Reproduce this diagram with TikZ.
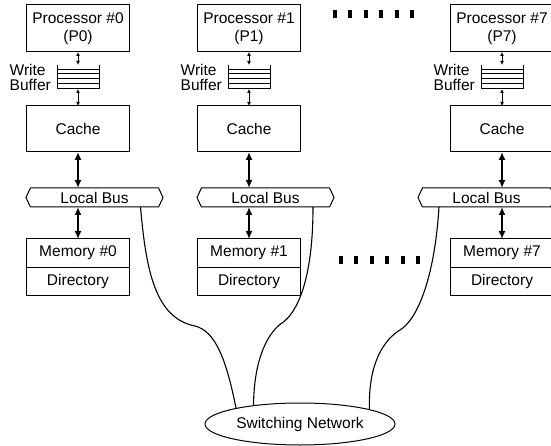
\documentclass[tikz,border=0pt]{standalone}
\usepackage{fontspec}
\setsansfont{Liberation Sans}
\usetikzlibrary{arrows.meta, positioning, shapes.geometric, shapes.symbols, calc}

\begin{document}
\begin{tikzpicture}[
    x=1pt, y=1pt,
    font=\sffamily\fontsize{15.5}{18}\selectfont,
    unit/.style={draw, line width=1pt, outer sep=0pt, minimum width=103pt, inner sep=0pt, align=center},
    proc/.style={unit, minimum height=47pt},
    cachebox/.style={unit, minimum height=46pt},
    membox/.style={unit, minimum height=28pt},
    wbuf/.style={minimum width=42pt, minimum height=24pt, inner sep=0pt, outer sep=0pt},
    wlabel/.style={align=left, inner sep=0pt, font=\sffamily\fontsize{15.5}{15}\selectfont},
    bus/.style={draw, line width=1pt, shape=signal, signal to=east and west, signal pointer angle=130, minimum width=137pt, minimum height=19pt, inner sep=0pt, outer sep=0pt},
    net/.style={draw, ellipse, line width=1pt, minimum width=190pt, minimum height=42pt, inner sep=0pt},
    smallarr/.style={line width=0.8pt, {Latex[length=4pt,width=4pt]}-{Latex[length=4pt,width=4pt]}},
    bigarr/.style={line width=2pt, {Latex[length=8pt,width=7pt]}-{Latex[length=8pt,width=7pt]}},
    wire/.style={line width=1.1pt}
]
    \useasboundingbox (0,0) rectangle (551,-446);

    % Node #0
    \node[proc] (p0) at (78,-28.5) {Processor \#0\\(P0)};
    \node[wbuf, below=13pt of p0] (wb0) {};
    \node[wlabel, left=6pt of wb0] (wl0) {Write\\Buffer};
    \node[cachebox, below=17pt of wb0] (c0) {Cache};
    \node[bus, below=36pt of c0, xshift=16.5pt] (lb0) {Local Bus};
    \node[membox, below=87pt of c0] (m0) {Memory \#0};
    \node[membox, below=0pt of m0] (d0) {Directory};

    % Node #1
    \node[proc] (p1) at (249,-28.5) {Processor \#1\\(P1)};
    \node[wbuf, below=13pt of p1] (wb1) {};
    \node[wlabel, left=6pt of wb1] (wl1) {Write\\Buffer};
    \node[cachebox, below=17pt of wb1] (c1) {Cache};
    \node[bus, below=36pt of c1, xshift=16.5pt] (lb1) {Local Bus};
    \node[membox, below=87pt of c1] (m1) {Memory \#1};
    \node[membox, below=0pt of m1] (d1) {Directory};

    % Node #7
    \node[proc] (p7) at (502,-28.5) {Processor \#7\\(P7)};
    \node[wbuf, below=13pt of p7] (wb7) {};
    \node[wlabel, left=6pt of wb7] (wl7) {Write\\Buffer};
    \node[cachebox, below=17pt of wb7] (c7) {Cache};
    \node[bus, below=36pt of c7, xshift=-15.5pt] (lb7) {Local Bus};
    \node[membox, below=87pt of c7] (m7) {Memory \#7};
    \node[membox, below=0pt of m7] (d7) {Directory};

    % Network
    \node[net] (sw) at (300,-424) {Switching Network};

    % Write buffers
    \foreach \b in {wb0,wb1,wb7} {
        \draw[line width=1pt] (\b.north west) -- (\b.south west) -- (\b.south east) -- (\b.north east);
        \foreach \f in {0.17,0.375,0.58,0.79}
            \draw[line width=1pt] ($(\b.north west)!\f!(\b.south west)$) -- ($(\b.north east)!\f!(\b.south east)$);
    }

    % Connections
    \draw[smallarr] (p0) -- (wb0);
    \draw[smallarr] (wb0) -- (c0);
    \draw[bigarr] (c0.south) -- (c0.south |- lb0.north);
    \draw[bigarr] (m0.north |- lb0.south) -- (m0.north);

    \draw[smallarr] (p1) -- (wb1);
    \draw[smallarr] (wb1) -- (c1);
    \draw[bigarr] (c1.south) -- (c1.south |- lb1.north);
    \draw[bigarr] (m1.north |- lb1.south) -- (m1.north);

    \draw[smallarr] (p7) -- (wb7);
    \draw[smallarr] (wb7) -- (c7);
    \draw[bigarr] (c7.south) -- (c7.south |- lb7.north);
    \draw[bigarr] (m7.north |- lb7.south) -- (m7.north);

    % Links to the switching network
    \draw[wire] ([xshift=46pt]lb0.south) .. controls (146,-270) and (155,-318) .. (195,-326)
        .. controls (215,-331) and (226,-358) .. (sw.166);
    \draw[wire] ([xshift=47.5pt]lb1.south) .. controls (313,-280) and (297,-313) .. (282,-323)
        .. controls (270,-331) and (254,-355) .. (sw.158);
    \draw[wire] ([xshift=-47.5pt]lb7.south) .. controls (434,-285) and (415,-321) .. (400,-330)
        .. controls (385,-339) and (368,-362) .. (sw.12.6);

    % Ellipsis dots
    \foreach \k in {0,...,5} {
        \fill (333+15.4*\k,-10) rectangle ++(4,-8);
        \fill (339+15.4*\k,-256) rectangle ++(4,-8);
    }
\end{tikzpicture}
\end{document}
